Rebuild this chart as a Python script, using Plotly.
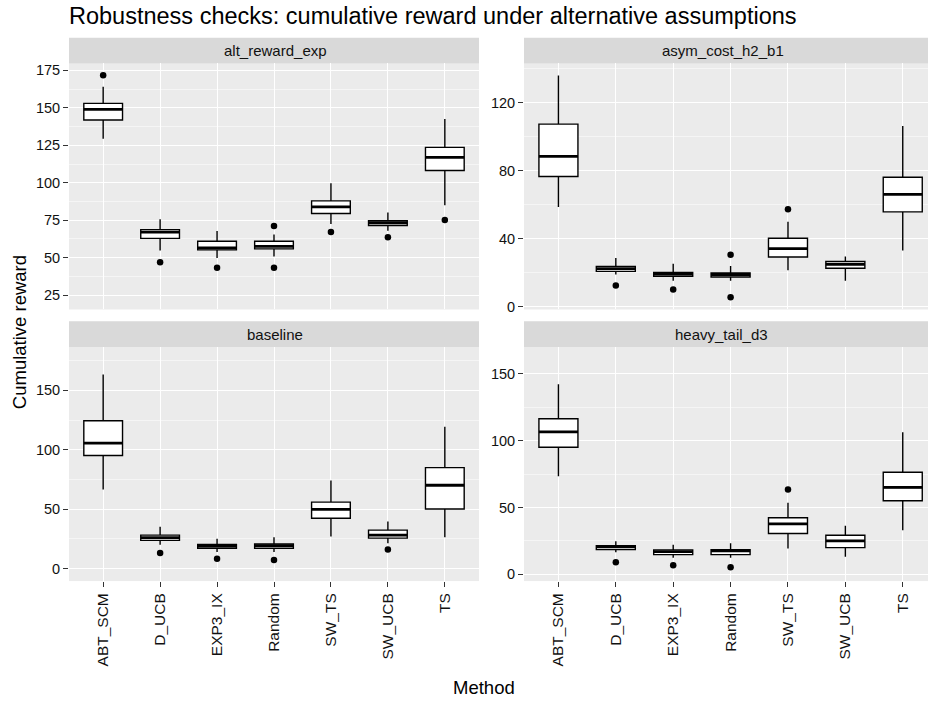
import plotly.graph_objects as go

W, H = 928, 709

methods = ["ABT_SCM", "D_UCB", "EXP3_IX", "Random", "SW_TS", "SW_UCB", "TS"]
scenarios = ["alt_reward_exp", "asym_cost_h2_b1", "baseline", "heavy_tail_d3"]

# Box statistics per scenario, one value per method (order as in `methods`)
alt_lower = [129.3, 54.8, 49.7, 50.8, 72.4, 68.0, 85.0]
alt_q1 = [141.9, 62.9, 55.2, 55.9, 79.5, 71.5, 108.2]
alt_median = [149.0, 67.0, 56.5, 57.6, 83.9, 73.3, 117.0]
alt_q3 = [153.0, 68.7, 61.0, 61.0, 87.9, 74.6, 123.6]
alt_upper = [164.0, 75.7, 67.8, 65.4, 99.6, 80.1, 142.6]
alt_out_m = ["ABT_SCM", "D_UCB", "EXP3_IX", "Random", "Random", "SW_TS", "SW_UCB", "TS"]
alt_out_v = [171.7, 47.0, 43.3, 71.1, 43.3, 67.1, 63.6, 75.1]

asym_lower = [58.7, 18.9, 15.2, 15.2, 21.4, 15.2, 33.1]
asym_q1 = [76.6, 20.8, 17.9, 17.5, 29.2, 22.6, 55.8]
asym_median = [88.5, 22.4, 19.1, 18.9, 34.2, 24.9, 66.1]
asym_q3 = [107.5, 23.7, 20.2, 19.8, 40.3, 26.6, 76.2]
asym_upper = [136.1, 28.6, 25.3, 23.9, 50.0, 29.6, 106.4]
asym_out_m = ["D_UCB", "EXP3_IX", "Random", "Random", "SW_TS"]
asym_out_v = [12.4, 10.1, 30.5, 5.6, 57.4]

base_lower = [66.5, 20.0, 13.9, 13.9, 27.0, 21.2, 26.4]
base_q1 = [95.2, 23.7, 17.0, 17.0, 42.3, 25.6, 50.1]
base_median = [105.5, 26.0, 18.9, 19.2, 49.8, 28.1, 70.1]
base_q3 = [124.4, 28.1, 20.3, 20.6, 55.9, 32.3, 84.9]
base_upper = [163.4, 35.1, 25.0, 26.4, 74.0, 39.5, 119.4]
base_out_m = ["D_UCB", "EXP3_IX", "Random", "SW_UCB"]
base_out_v = [13.1, 8.1, 7.2, 15.9]

heavy_lower = [73.4, 16.6, 12.4, 12.4, 19.3, 13.1, 32.9]
heavy_q1 = [95.1, 18.5, 14.8, 14.8, 30.6, 20.0, 55.1]
heavy_median = [106.5, 20.5, 17.0, 17.5, 37.8, 25.0, 65.0]
heavy_q3 = [116.4, 21.5, 18.3, 18.5, 42.3, 29.2, 76.4]
heavy_upper = [142.1, 24.7, 22.2, 23.2, 53.6, 36.3, 106.3]
heavy_out_m = ["D_UCB", "EXP3_IX", "Random", "SW_TS"]
heavy_out_v = [9.1, 6.9, 5.4, 63.5]

# y tick labels per panel
alt_ticks = [25, 50, 75, 100, 125, 150, 175]
asym_ticks = [0, 40, 80, 120]
base_ticks = [0, 50, 100, 150]
heavy_ticks = [0, 50, 100, 150]

FONT = "Liberation Sans, Arial, Helvetica, sans-serif"
PANEL_BG = "#EBEBEB"
STRIP_BG = "#D9D9D9"
TEXT = "#111111"
BOX_W = 0.68


def px_x(x):
    return x / W


def px_y(y):
    return 1 - y / H


# panel geometry in pixels: (x0, x1, y_top, y_bottom)
panels = [
    dict(name=scenarios[0], box=(69, 479, 63, 311), xr=[-0.6, 6.6], yr=[15.5, 179.6],
         ticks=alt_ticks, minor=12.5, showx=False,
         stats=(alt_lower, alt_q1, alt_median, alt_q3, alt_upper), out=(alt_out_m, alt_out_v),
         strip_cx=275),
    dict(name=scenarios[1], box=(524, 928, 63, 311), xr=[-0.6, 6.44], yr=[-1.6, 143.2],
         ticks=asym_ticks, minor=20, showx=False,
         stats=(asym_lower, asym_q1, asym_median, asym_q3, asym_upper), out=(asym_out_m, asym_out_v),
         strip_cx=722.5),
    dict(name=scenarios[2], box=(69, 479, 349, 585), xr=[-0.6, 6.6], yr=[-10.6, 186.5],
         ticks=base_ticks, minor=25, showx=True,
         stats=(base_lower, base_q1, base_median, base_q3, base_upper), out=(base_out_m, base_out_v),
         strip_cx=275),
    dict(name=scenarios[3], box=(524, 928, 349, 585), xr=[-0.6, 6.44], yr=[-5.0, 170.0],
         ticks=heavy_ticks, minor=25, showx=True,
         stats=(heavy_lower, heavy_q1, heavy_median, heavy_q3, heavy_upper), out=(heavy_out_m, heavy_out_v),
         strip_cx=721),
]

fig = go.Figure()
layout = dict(
    width=W, height=H, autosize=False,
    margin=dict(l=0, r=0, t=0, b=0),
    paper_bgcolor="white", plot_bgcolor=PANEL_BG,
    showlegend=False,
    font=dict(family=FONT, size=14, color=TEXT),
)
shapes = []
annotations = []
pos = list(range(len(methods)))

for i, p in enumerate(panels):
    n = "" if i == 0 else str(i + 1)
    xa, ya = "x" + n, "y" + n
    x0, x1, yt, yb = p["box"]
    lower, q1, med, q3, upper = p["stats"]

    # panel background
    shapes.append(dict(type="rect", xref="paper", yref="paper",
                       x0=px_x(x0), x1=px_x(x1), y0=px_y(yb), y1=px_y(yt),
                       fillcolor=PANEL_BG, line=dict(width=0), layer="below"))

    fig.add_trace(go.Box(
        x=pos, q1=q1, median=med, q3=q3, lowerfence=lower, upperfence=upper,
        width=BOX_W, whiskerwidth=0, boxpoints=False,
        fillcolor="white", line=dict(color="black", width=1.4),
        xaxis=xa, yaxis=ya, hoverinfo="skip",
    ))

    # thicker median bars
    mx, my = [], []
    for k, m in enumerate(med):
        mx += [k - BOX_W / 2, k + BOX_W / 2, None]
        my += [m, m, None]
    fig.add_trace(go.Scatter(x=mx, y=my, mode="lines", line=dict(color="black", width=2.8),
                             xaxis=xa, yaxis=ya, hoverinfo="skip"))

    om, ov = p["out"]
    fig.add_trace(go.Scatter(x=[methods.index(m) for m in om], y=ov, mode="markers",
                             marker=dict(color="black", size=6.5),
                             xaxis=xa, yaxis=ya, hoverinfo="skip"))

    layout["xaxis" + n] = dict(
        domain=[px_x(x0), px_x(x1)], anchor=ya, range=p["xr"],
        tickmode="array", tickvals=pos, ticktext=methods if p["showx"] else [""] * len(methods),
        showticklabels=p["showx"], tickangle=-90,
        ticks="outside" if p["showx"] else "", ticklen=5, tickcolor="#333333", tickwidth=1,
        showgrid=True, gridcolor="white", gridwidth=1.2,
        zeroline=False, showline=False,
        tickfont=dict(size=15.5, color=TEXT, family=FONT),
    )
    layout["yaxis" + n] = dict(
        domain=[px_y(yb), px_y(yt)], anchor=xa, range=p["yr"],
        tickmode="array", tickvals=p["ticks"], ticktext=[str(t) for t in p["ticks"]],
        ticks="outside", ticklen=5, tickcolor="#333333", tickwidth=1,
        showgrid=True, gridcolor="white", gridwidth=1.2,
        minor=dict(showgrid=True, gridcolor="#F5F5F5", gridwidth=0.6,
                   tick0=p["ticks"][0] - p["minor"], dtick=p["minor"] * 2),
        zeroline=False, showline=False,
        tickfont=dict(size=14.5, color=TEXT, family=FONT),
    )

    # facet strip
    st_top = yt - 26
    shapes.append(dict(type="rect", xref="paper", yref="paper",
                       x0=px_x(x0), x1=px_x(x1), y0=px_y(yt), y1=px_y(st_top),
                       fillcolor=STRIP_BG, line=dict(width=0), layer="below"))
    annotations.append(dict(xref="paper", yref="paper", x=px_x(p["strip_cx"]), y=px_y(yt - 13),
                            text=p["name"], showarrow=False, xanchor="center", yanchor="middle",
                            font=dict(size=15, color=TEXT, family=FONT)))

annotations.append(dict(xref="paper", yref="paper", x=px_x(67), y=px_y(15.5),
                        text="Robustness checks: cumulative reward under alternative assumptions",
                        showarrow=False, xanchor="left", yanchor="middle",
                        font=dict(size=23.5, color="black", family=FONT)))
annotations.append(dict(xref="paper", yref="paper", x=px_x(484), y=px_y(692),
                        text="Method", showarrow=False, xanchor="center", yanchor="middle",
                        font=dict(size=18.5, color="black", family=FONT)))
annotations.append(dict(xref="paper", yref="paper", x=px_x(19), y=px_y(334),
                        text="Cumulative reward", showarrow=False, textangle=-90,
                        xanchor="center", yanchor="middle",
                        font=dict(size=18.5, color="black", family=FONT)))

layout["shapes"] = shapes
layout["annotations"] = annotations
fig.update_layout(**layout)

fig.write_html("out.html")
